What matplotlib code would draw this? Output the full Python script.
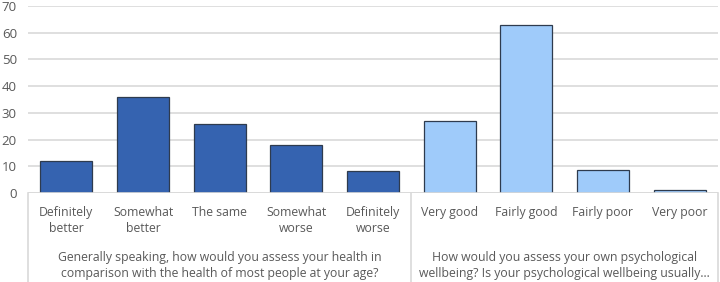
import matplotlib.pyplot as plt
from matplotlib.lines import Line2D

categories = ['Definitely\nbetter', 'Somewhat\nbetter', 'The same', 'Somewhat\nworse',
              'Definitely\nworse', 'Very good', 'Fairly good', 'Fairly poor', 'Very poor']
values = [12, 36, 26, 18, 8.2, 27, 63, 8.5, 1.2]
colors = ['#3563B0'] * 5 + ['#9FCBFA'] * 4
groups = ['Generally speaking, how would you assess your health in\ncomparison with the health of most people at your age?',
          'How would you assess your own psychological\nwellbeing? Is your psychological wellbeing usually...']
group_sizes = [5, 4]

text_color = '#595959'
plt.rcParams['font.family'] = ['Open Sans', 'DejaVu Sans']

fig = plt.figure(figsize=(7.2, 2.82), dpi=100)
ax = fig.add_axes([28 / 720, 89 / 282, 690 / 720, 187 / 282])

x = list(range(len(values)))
ax.bar(x, values, width=0.68, color=colors, edgecolor='#2E3B4E', linewidth=0.9, zorder=3)
ax.set_xlim(-0.5, len(values) - 0.5)
ax.set_ylim(0, 70)
ax.set_yticks(range(0, 71, 10))
ax.tick_params(axis='y', length=0, colors=text_color, labelsize=9.5, pad=8)
ax.set_xticks([])
ax.grid(axis='y', color='#D9D9D9', linewidth=1.2, zorder=0)
for s in ax.spines.values():
    s.set_visible(False)
ax.axhline(0, color='#D9D9D9', linewidth=1.2, zorder=4)

# category labels
for i, c in enumerate(categories):
    ax.text(i, -4.9, c, ha='center', va='top', fontsize=8.8, color=text_color,
            linespacing=1.3, clip_on=False)

# group labels and dividers
start = 0
bounds = [-0.5]
for g, n in zip(groups, group_sizes):
    mid = start + (n - 1) / 2
    ax.text(mid, -21.6, g, ha='center', va='top', fontsize=8.8, color=text_color,
            linespacing=1.3, clip_on=False)
    start += n
    bounds.append(start - 0.5)

for b in bounds:
    ax.add_line(Line2D([b, b], [0, -33.5], color='#D9D9D9', linewidth=1.2, clip_on=False))

fig.savefig('out.png', dpi=100)
